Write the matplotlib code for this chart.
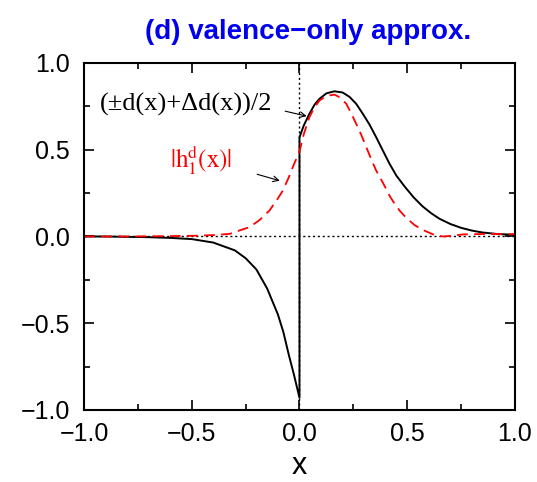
import matplotlib.pyplot as plt
import numpy as np

plt.rcParams['font.family'] = ['Liberation Sans', 'DejaVu Sans']
plt.rcParams['mathtext.fontset'] = 'stix'

# black solid curve, x < 0 branch
x_neg = [-1.0, -0.9, -0.8, -0.7, -0.6, -0.5, -0.4, -0.3, -0.25, -0.2,
         -0.15, -0.1, -0.075, -0.05, -0.025, 0.0]
d_neg = [0.0, 0.0, -0.002, -0.004, -0.008, -0.015, -0.035, -0.08, -0.125, -0.19,
         -0.30, -0.45, -0.55, -0.68, -0.80, -0.93]

# black solid curve, x > 0 branch
x_pos = [0.0, 0.02, 0.046, 0.07, 0.093, 0.125, 0.162, 0.2, 0.232, 0.263, 0.294,
         0.325, 0.356, 0.387, 0.418, 0.45, 0.49, 0.53, 0.57, 0.61, 0.65, 0.7,
         0.75, 0.8, 0.85, 0.92, 1.0]
d_pos = [0.572, 0.64, 0.707, 0.76, 0.794, 0.825, 0.837, 0.83, 0.805, 0.765, 0.707,
         0.645, 0.572, 0.495, 0.419, 0.35, 0.285, 0.225, 0.175, 0.135, 0.102, 0.072,
         0.05, 0.034, 0.023, 0.014, 0.01]

# red dashed curve |h1^d(x)|
x_h = [-1.0, -0.8, -0.6, -0.5, -0.4, -0.325, -0.232, -0.185, -0.139, -0.1, -0.077,
       -0.05, -0.031, 0.0, 0.02, 0.046, 0.07, 0.093, 0.125, 0.162, 0.19, 0.217,
       0.24, 0.263, 0.287, 0.31, 0.333, 0.356, 0.387, 0.418, 0.433, 0.464, 0.495,
       0.535, 0.572, 0.62, 0.665, 0.71, 0.758, 0.88, 1.0]
h_vals = [0.0, 0.0, 0.002, 0.004, 0.008, 0.015, 0.054, 0.095, 0.15, 0.22, 0.265,
          0.34, 0.40, 0.49, 0.59, 0.688, 0.745, 0.784, 0.81, 0.818, 0.80, 0.765,
          0.71, 0.65, 0.585, 0.515, 0.445, 0.38, 0.31, 0.235, 0.205, 0.15, 0.108,
          0.065, 0.038, 0.012, 0.0, 0.004, 0.012, 0.015, 0.013]

fig = plt.figure(figsize=(5.37, 4.82), dpi=100)
ax = fig.add_axes([0.1564, 0.1494, 0.8026, 0.7199])

# zero lines
ax.axhline(0, color='black', lw=1, ls=(0, (1.5, 2)))
ax.axvline(0, color='black', lw=1, ls=(0, (1.5, 2)))

# curves: negative branch, jump at x=0, positive branch
ax.plot(x_neg + x_pos, d_neg + d_pos, color='black', lw=1.4)
ax.plot(x_h, h_vals, color='red', lw=1.3, dashes=[6, 3.5])

ax.set_xlim(-1, 1)
ax.set_ylim(-1, 1)
ax.set_xticks(np.arange(-1, 1.01, 0.5))
ax.set_yticks(np.arange(-1, 1.01, 0.5))
ax.set_xticks(np.arange(-1, 1.01, 0.25), minor=True)
ax.set_yticks(np.arange(-1, 1.01, 0.25), minor=True)
fmt = plt.FuncFormatter(lambda v, p: ('%.1f' % v).replace('-', '\u2212'))
ax.xaxis.set_major_formatter(fmt)
ax.yaxis.set_major_formatter(fmt)
ax.tick_params(which='both', direction='in', top=True, right=True, width=1.2)
ax.tick_params(which='major', length=7, labelsize=18)
ax.tick_params(axis='x', which='major', pad=9)
ax.tick_params(axis='y', which='major', pad=10)
ax.tick_params(which='minor', length=4)
for s in ax.spines.values():
    s.set_linewidth(1.5)

ax.set_xlabel('x', fontsize=22, labelpad=3)

# labels and arrows
ax.text(-0.928, 0.76, '(\u00b1d(x)+\u0394d(x))/2', family='Liberation Serif',
        fontsize=19, color='black', va='center', ha='left')
ax.annotate('', xy=(0.046, 0.69), xytext=(-0.079, 0.726),
            arrowprops=dict(arrowstyle='->', color='black', lw=0.8))
ax.text(-0.603, 0.44, r'$|\mathrm{h}_1^{\mathrm{d}}\mathrm{(x)}|$',
        fontsize=18, color='red', va='center', ha='left')
ax.annotate('', xy=(-0.079, 0.317), xytext=(-0.209, 0.363),
            arrowprops=dict(arrowstyle='->', color='black', lw=0.8))

fig.text(0.574, 0.934, '(d) valence\u2212only approx.', color='#0000ee',
         fontsize=20, fontweight='bold', ha='center', va='center')

fig.savefig('out.png', dpi=100)
